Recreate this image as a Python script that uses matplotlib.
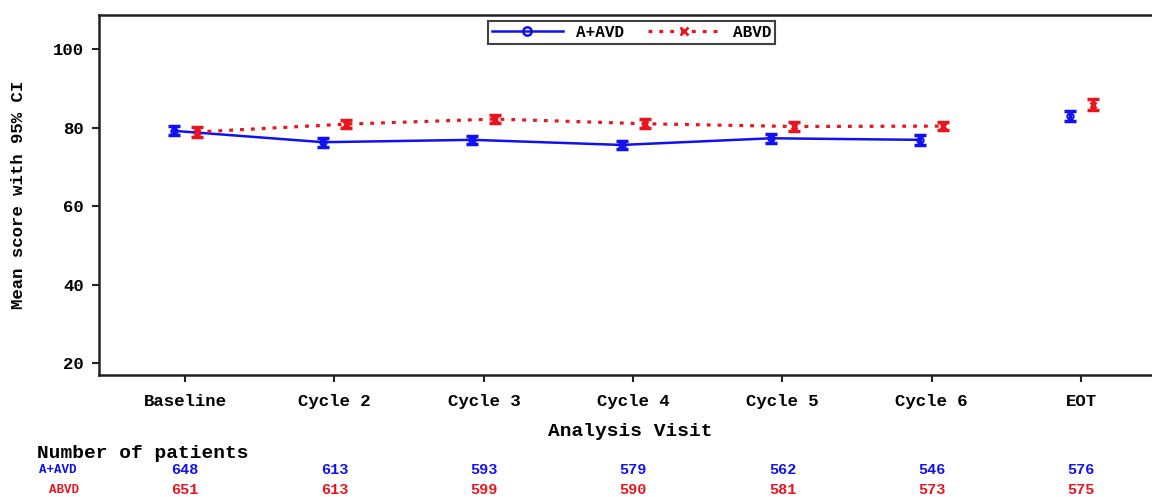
import matplotlib
matplotlib.use("Agg")
import matplotlib.pyplot as plt
import matplotlib.transforms as mtransforms
from matplotlib.lines import Line2D
import numpy as np

visits = ["Baseline", "Cycle 2", "Cycle 3", "Cycle 4", "Cycle 5", "Cycle 6", "EOT"]
aavd_mean = [79.2, 76.3, 76.9, 75.6, 77.3, 76.9, 83.0]
aavd_ci = [1.1, 1.1, 1.1, 1.1, 1.2, 1.2, 1.2]
abvd_mean = [78.9, 80.9, 82.2, 81.0, 80.3, 80.4, 85.9]
abvd_ci = [1.2, 1.1, 1.1, 1.1, 1.1, 1.1, 1.3]
aavd_n = [648, 613, 593, 579, 562, 546, 576]
abvd_n = [651, 613, 599, 590, 581, 573, 575]
yticks = [20, 40, 60, 80, 100]

BLUE = "#1010f0"
RED = "#e8141e"
FONT = "Liberation Mono"

plt.rcParams["font.family"] = FONT
plt.rcParams["font.weight"] = "bold"

fig = plt.figure(figsize=(11.52, 4.97), dpi=100)
ax = fig.add_axes([99 / 1152, 1 - 375 / 497, 1 - 99 / 1152 + 0.002, 360 / 497])

x = np.arange(len(visits))
off = 0.077
n_conn = 6  # baseline..cycle 6 connected

# A+AVD
ax.plot(x[:n_conn] - off, aavd_mean[:n_conn], color=BLUE, lw=1.8, zorder=3)
ax.errorbar(x - off, aavd_mean, yerr=aavd_ci, fmt="none", ecolor=BLUE,
            elinewidth=2.5, capsize=4, capthick=2.5, zorder=4)
ax.plot(x - off, aavd_mean, ls="none", marker="o", ms=4.5, mfc="none",
        mec=BLUE, mew=1.5, zorder=5)

# ABVD
ax.plot(x[:n_conn] + off, abvd_mean[:n_conn], color=RED, lw=2.3,
        ls=(0, (1.2, 2.2)), zorder=3)
ax.errorbar(x + off, abvd_mean, yerr=abvd_ci, fmt="none", ecolor=RED,
            elinewidth=2.5, capsize=4, capthick=2.5, zorder=4)
ax.plot(x + off, abvd_mean, ls="none", marker="x", ms=5, mec=RED,
        mew=2, zorder=5)

ax.set_xlim(-0.577, 6.49)
ax.set_ylim(17.0, 108.7)
ax.set_xticks(x)
ax.set_xticklabels(visits, fontsize=12.5, fontweight="bold")
ax.set_yticks(yticks)
ax.set_yticklabels([str(v) for v in yticks], fontsize=12.5, fontweight="bold")
ax.tick_params(axis="both", length=5, width=1.5, color="#222222")
ax.tick_params(axis="x", pad=9)
ax.tick_params(axis="y", pad=6)
for s in ["left", "bottom", "top"]:
    ax.spines[s].set_linewidth(1.8)
    ax.spines[s].set_color("#222222")
ax.spines["right"].set_visible(False)

ax.set_ylabel("Mean score with 95% CI", fontsize=12.5, fontweight="bold", labelpad=19)

# legend
handles = [
    Line2D([], [], color=BLUE, lw=1.8, marker="o", ms=6, mfc="none", mec=BLUE, mew=1.8),
    Line2D([], [], color=RED, lw=2.3, ls=(0, (1.2, 2.2)), marker="x", ms=6, mec=RED, mew=2),
]
leg = fig.legend(handles, ["A+AVD", "ABVD"], ncol=2, loc="center",
                 bbox_to_anchor=(631.5 / 1152, 1 - 32.5 / 497),
                 frameon=True, fancybox=False, edgecolor="#111111",
                 handlelength=4.5, columnspacing=1.5,
                 borderpad=0.25, handletextpad=0.8,
                 prop={"family": FONT, "weight": "bold", "size": 11.5})
leg.get_frame().set_linewidth(1.5)

# x label and patient table
blend = mtransforms.blended_transform_factory(ax.transData, fig.transFigure)
fig.text(630 / 1152, 1 - 431 / 497, "Analysis Visit", ha="center", va="center",
         fontsize=14, fontweight="bold")
fig.text(37 / 1152, 1 - 453 / 497, "Number of patients", ha="left", va="center",
         fontsize=14, fontweight="bold")
fig.text(58 / 1152, 1 - 470 / 497, "A+AVD", ha="center", va="center",
         fontsize=9, fontweight="bold", color=BLUE)
fig.text(64 / 1152, 1 - 490 / 497, "ABVD", ha="center", va="center",
         fontsize=9, fontweight="bold", color=RED)
for xi, n1, n2 in zip(x, aavd_n, abvd_n):
    ax.text(xi, 1 - 470 / 497, str(n1), transform=blend, ha="center", va="center",
            fontsize=11, fontweight="bold", color=BLUE)
    ax.text(xi, 1 - 490 / 497, str(n2), transform=blend, ha="center", va="center",
            fontsize=11, fontweight="bold", color=RED)

fig.savefig("out.png", dpi=100)
